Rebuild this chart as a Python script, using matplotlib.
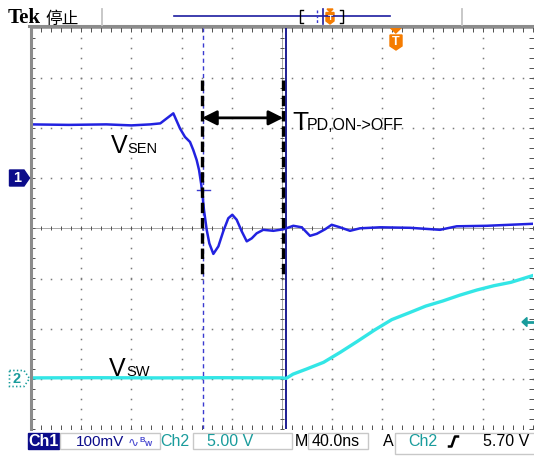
import numpy as np
import matplotlib.pyplot as plt
from matplotlib.patches import Polygon, Rectangle

plt.rcParams['lines.scale_dashes'] = False
plt.rcParams['font.family'] = ['Liberation Sans', 'DejaVu Sans']

# Ch1 (V_SEN), time in ns, value in mV (100 mV/div, ground 1 div above centre)
ch1_t = [-200, -170, -140, -120, -105, -97, -86.6, -81.3, -77.3, -73.3, -70.7, -68, -66.1,
         -64.5, -63.5, -62.2, -60, -57.9, -54.7, -50.7, -46.8, -42.8, -39.6, -36.1, -32.1,
         -28.1, -24.1, -20.2, -14.9, -6.9, 1.1, 9, 15.7, 22.3, 27.7, 34.3, 39.6, 46.2, 54.2,
         62.2, 78.1, 102, 125.9, 139.2, 163.1, 200]
ch1_mv = [107, 106, 107, 105, 107, 109, 129, 99, 82, 72, 56, 36, 16,
          -10, -30, -63, -103, -130, -151, -136, -106, -80, -73, -83, -106,
          -126, -120, -110, -103, -105, -102, -95, -98, -115, -111, -102, -93, -98, -105,
          -100, -98, -99, -103, -96, -95, -91]

# Ch2 (V_SW), time in ns, value in V (5 V/div, ground 3 div below centre)
ch2_t = [-200, -150, -100, -50, 0, 3.3, 8.7, 19.5, 33.1, 46.7, 60.3, 73.9, 87.4, 101,
         114.5, 128.1, 141.7, 155.2, 168.8, 182.4, 200]
ch2_v = [0.1, 0.12, 0.1, 0.12, 0.1, 0.05, 0.47, 0.98, 1.65, 2.67, 3.76, 4.88, 5.9, 6.57,
         7.25, 7.76, 8.34, 8.85, 9.28, 9.62, 10.3]

ch1_scale, ch1_pos = 100.0, 1.0
ch2_scale, ch2_pos = 5.0, -3.0
cursor1_t, cursor2_t = -62.9, 2.8
delay_start, delay_end = -63.7, 1.0

status_texts = ['Ch1', '100mV', 'Ch2', '5.00 V', 'M', '40.0ns', 'A', 'Ch2', '5.70 V']

blue = '#2222e0'
cyan = '#33e6e6'
navy = '#0c0c8a'
teal = '#1a9c9c'
orange = '#f57c00'
grid_c = '#7a7a7a'

fig = plt.figure(figsize=(5.34, 4.57), dpi=100)
ax = fig.add_axes([31 / 534, (457 - 429.1) / 457, 502 / 534, 401.6 / 457])
ax.set_xlim(-200, 200)
ax.set_ylim(-4, 4)
ax.set_xticks([])
ax.set_yticks([])
for s in ['right', 'bottom']:
    ax.spines[s].set_visible(False)
ax.spines['left'].set_color('#8c8c8c')
ax.spines['left'].set_linewidth(2.2)
ax.spines['top'].set_visible(False)

px = 0.72
# graticule dots
ys = np.arange(-4, 4.01, 0.2)
xs = np.arange(-200, 200.1, 8)
for gx in np.arange(-160, 161, 40):
    if gx != 0:
        ax.plot(np.full_like(ys, gx), ys, ls='none', marker='s', ms=1.1, mew=0, color=grid_c)
for gy in np.arange(-3, 4, 1):
    if gy != 0:
        ax.plot(xs, np.full_like(xs, gy), ls='none', marker='s', ms=1.1, mew=0, color=grid_c)
# centre lines and edge ticks
ax.axhline(0, color='#555555', lw=px, dashes=(px, px))
ax.axvline(0, color='#555555', lw=px, dashes=(px, px))
ax.plot(xs, np.zeros_like(xs), ls='none', marker='|', ms=5 * px, mew=px, color='#555555')
ax.plot(np.zeros_like(ys), ys, ls='none', marker='_', ms=5 * px, mew=px, color='#555555')
ax.axhline(4, color='#555555', lw=px, dashes=(px, px))
ax.axhline(-4, color='#555555', lw=px, dashes=(px, px))
ax.axvline(200, color='#555555', lw=px, dashes=(px, px))
ax.plot(xs, np.full_like(xs, 4), ls='none', marker='|', ms=8 * px, mew=px, color='#555555')
ax.plot(xs, np.full_like(xs, -4), ls='none', marker='|', ms=8 * px, mew=px, color='#555555')
ax.plot(np.full_like(ys, 200), ys, ls='none', marker='_', ms=8 * px, mew=px, color='#555555')
ax.plot(np.full_like(ys, -200), ys, ls='none', marker='_', ms=8 * px, mew=px, color='#555555')

# cursors
ax.axvline(cursor1_t, color='#3a3ad0', lw=1.0, dashes=(3, 2.5))
ax.axvline(cursor2_t, color=navy, lw=1.3)

# traces
ax.plot(ch2_t, np.array(ch2_v) / ch2_scale + ch2_pos, color=cyan, lw=2.4)
ax.plot(ch1_t, np.array(ch1_mv) / ch1_scale + ch1_pos, color=blue, lw=1.8)
ax.plot([cursor1_t - 4.8, cursor1_t + 5.5], [-24 / ch1_scale + ch1_pos] * 2, color='#3a3ad0', lw=1.0)

# delay marks
for t in [delay_start, delay_end]:
    ax.plot([t, t], [2.95, -1.0], color='black', lw=2.4, dashes=(7.5, 3.5))
ax.annotate('', xy=(delay_start, 2.2), xytext=(delay_end, 2.2),
            arrowprops=dict(arrowstyle='<|-|>', color='black', lw=2.0, mutation_scale=22,
                            shrinkA=0, shrinkB=0))

# overlay in pixel coordinates
ov = fig.add_axes([0, 0, 1, 1], zorder=5)
ov.set_xlim(0, 534)
ov.set_ylim(457, 0)
ov.axis('off')

ov.text(111, 153, 'V', fontsize=18, va='baseline')
ov.text(127.5, 153, 'SEN', fontsize=10.5, va='baseline')
ov.text(109, 376.5, 'V', fontsize=18, va='baseline')
ov.text(126.5, 376.5, 'SW', fontsize=10.5, va='baseline')
ov.text(292, 130, 'T', fontsize=19, va='baseline')
ov.text(307, 130, 'PD,ON->OFF', fontsize=11.5, va='baseline')

# header
ov.text(8, 23, 'Tek', fontsize=15, fontweight='bold', family='Liberation Serif', va='baseline')
ov.text(45, 23.5, '停止', fontsize=12, family=['Noto Sans CJK SC', 'DejaVu Sans'], va='baseline')
ov.plot([29, 534], [25.5, 25.5], color='#8c8c8c', lw=2.2)
ov.plot([101.5, 101.5], [9, 25], color='#c4c4c4', lw=1.3)
ov.plot([462, 462], [9, 25], color='#c4c4c4', lw=1.3)
ov.plot([174, 390], [16, 16], color='#1c1ca0', lw=1.2)
ov.plot([302.5, 300, 300, 302.5], [10, 10, 23, 23], color='black', lw=1.0)
ov.plot([340, 342.5, 342.5, 340], [10, 10, 23, 23], color='black', lw=1.0)
ov.plot([316.5, 316.5], [10, 23], color='#3a3ad0', lw=1.0, dashes=(2, 1.5))
ov.plot([323, 323], [9, 24], color='#1c1ca0', lw=1.2)
ov.add_patch(Polygon([(327, 9), (333, 9), (330, 12)], closed=True, color=orange))
ov.add_patch(Polygon([(326, 12.5), (334, 12.5), (334, 21), (330, 24), (326, 21)], closed=True, color=orange))
ov.text(330, 18, 'T', color='white', fontsize=6, fontweight='bold', ha='center', va='center')

# trigger position marker
ov.add_patch(Polygon([(390.5, 28), (401, 28), (395.8, 33)], closed=True, color=orange))
ov.add_patch(Polygon([(390, 35), (402, 35), (402, 46), (396, 50), (390, 46)], closed=True, color=orange))
ov.text(396, 42, 'T', color='white', fontsize=9, fontweight='bold', ha='center', va='center')

# channel ground markers
ov.add_patch(Polygon([(9.5, 170), (24, 170), (29.5, 178), (24, 186), (9.5, 186)], closed=True,
                     facecolor=navy, edgecolor=navy))
ov.text(17, 178.5, '1', color='white', fontsize=10.5, fontweight='bold', ha='center', va='center')
ov.add_patch(Polygon([(9.5, 370.5), (24, 370.5), (29.5, 378.5), (24, 386.5), (9.5, 386.5)], closed=True,
                     facecolor='white', edgecolor=teal, lw=1.2, ls=':'))
ov.text(17, 379, '2', color=teal, fontsize=10.5, fontweight='bold', ha='center', va='center')
# trigger level marker
ov.add_patch(Polygon([(522, 322), (527, 317.5), (527, 326.5)], closed=True, color=teal))
ov.plot([526, 533], [322, 322], color=teal, lw=2)

# status bar
ov.add_patch(Rectangle((28, 432.5), 31, 16, color=navy))
for x0, x1, y1 in [(60, 160, 449), (193, 292, 449), (308, 368, 449), (395, 540, 454)]:
    ov.add_patch(Rectangle((x0, 432.5), x1 - x0, y1 - 432.5, fill=False, edgecolor='#c8c8c8', lw=1.0))
fs = 11.5
ov.text(43.5, 441, status_texts[0], color='white', fontsize=fs, fontweight='bold', ha='center', va='center')
ov.text(76, 446, status_texts[1], color=navy, fontsize=11, va='baseline')
ov.text(128, 443, '∿', color='#4a4ad0', fontsize=9.5, family='DejaVu Sans', va='center')
ov.text(139.5, 440, 'B', color='#4a4ad0', fontsize=5.5, fontweight='bold', va='center')
ov.text(145, 445, 'W', color='#4a4ad0', fontsize=5.5, fontweight='bold', va='center')
ov.text(160, 446, status_texts[2], color=teal, fontsize=fs, va='baseline')
ov.text(207, 446, status_texts[3], color=teal, fontsize=fs, va='baseline')
ov.text(295, 446, status_texts[4], color='black', fontsize=fs, va='baseline')
ov.text(312, 446, status_texts[5], color='black', fontsize=fs, va='baseline')
ov.text(383, 446, status_texts[6], color='black', fontsize=fs, va='baseline')
ov.text(408, 446, status_texts[7], color=teal, fontsize=fs, va='baseline')
ov.plot([449, 451.5, 455, 458], [446.5, 446.5, 436.5, 436.5], color='black', lw=1.8)
ov.text(483, 446, status_texts[8], color='black', fontsize=fs, va='baseline')

fig.savefig('out.png', dpi=100)
